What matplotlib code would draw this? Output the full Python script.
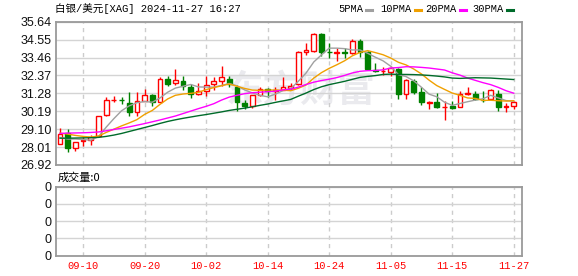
import pandas as pd
import matplotlib
matplotlib.use('Agg')
import matplotlib.pyplot as plt
from matplotlib.patches import Rectangle
from matplotlib.lines import Line2D

plt.rcParams['font.family'] = ['Liberation Sans', 'Noto Sans CJK SC', 'DejaVu Sans']

# trading days shown on the chart
dates = pd.bdate_range('2024-09-05', '2024-11-27').strftime('%m-%d').tolist()

opens = [28.21, 28.88, 27.97, 28.38, 28.43, 28.67, 29.95, 30.85, 30.87, 30.69,
         30.13, 30.83, 31.18, 30.75, 32.15, 31.90, 32.05, 31.66, 31.24, 31.40,
         31.86, 32.05, 32.17, 31.66, 30.69, 30.49, 31.20, 31.54, 31.40, 31.50,
         31.62, 31.86, 33.82, 33.88, 34.89, 33.82, 33.74, 33.80, 33.76, 34.49,
         33.78, 32.71, 32.63, 32.57, 32.75, 31.26, 32.05, 31.34, 30.69, 30.73,
         30.43, 30.49, 30.45, 31.22, 31.26, 30.89, 30.96, 31.26, 30.45, 30.49]
highs = [29.18, 29.14, 28.31, 28.63, 28.77, 29.93, 31.06, 31.14, 31.06, 31.36,
         31.34, 31.54, 31.26, 32.27, 32.35, 32.77, 32.31, 31.86, 31.90, 32.31,
         32.27, 32.95, 32.35, 31.80, 30.85, 31.20, 31.66, 31.58, 31.66, 32.27,
         31.90, 33.88, 34.33, 34.93, 34.93, 34.37, 34.03, 34.03, 34.57, 34.57,
         33.86, 33.12, 32.91, 32.95, 32.81, 32.15, 32.15, 31.66, 30.83, 31.30,
         30.79, 30.83, 31.40, 31.64, 31.40, 31.44, 31.56, 31.50, 30.69, 30.79]
lows = [28.21, 27.73, 27.77, 28.07, 28.11, 28.64, 29.89, 30.77, 30.66, 29.89,
        29.93, 30.79, 30.49, 30.75, 31.70, 31.80, 31.50, 30.99, 31.20, 31.10,
        31.50, 31.70, 31.66, 30.19, 30.33, 30.39, 31.10, 31.04, 30.89, 31.46,
        31.46, 31.80, 33.62, 33.78, 33.56, 33.42, 33.26, 33.42, 33.66, 33.52,
        32.71, 32.55, 32.41, 32.31, 30.93, 30.93, 31.26, 30.59, 30.35, 30.39,
        29.68, 30.35, 30.43, 31.16, 30.85, 30.73, 30.93, 30.23, 30.15, 30.33]
closes = [28.82, 27.97, 28.31, 28.42, 28.63, 29.89, 30.86, 30.89, 30.85, 30.13,
          30.83, 31.18, 30.73, 32.15, 31.86, 32.07, 31.74, 31.26, 31.44, 31.80,
          32.05, 32.27, 31.86, 30.73, 30.53, 31.16, 31.54, 31.40, 31.50, 31.66,
          31.70, 33.82, 33.90, 34.89, 33.78, 33.78, 33.80, 33.76, 34.49, 33.78,
          32.75, 32.63, 32.67, 32.81, 31.26, 32.11, 31.34, 30.73, 30.73, 30.45,
          30.47, 30.39, 31.26, 31.28, 30.93, 30.87, 31.46, 30.45, 30.49, 30.73]

ma5 = [28.60, 28.50, 28.50, 28.47, 28.43, 28.64, 29.22, 29.74, 30.22, 30.52,
       30.71, 30.78, 30.74, 31.00, 31.35, 31.60, 31.71, 31.82, 31.67, 31.66,
       31.66, 31.76, 31.88, 31.74, 31.49, 31.31, 31.16, 31.07, 31.23, 31.45,
       31.56, 32.02, 32.52, 33.19, 33.62, 34.03, 34.03, 34.00, 33.92, 33.92,
       33.72, 33.48, 33.26, 32.93, 32.42, 32.30, 32.04, 31.65, 31.23, 31.07,
       30.74, 30.55, 30.66, 30.77, 30.87, 30.95, 31.16, 31.00, 30.84, 30.80]
ma10 = [28.86, 28.80, 28.72, 28.66, 28.62, 28.68, 28.90, 29.10, 29.30, 29.48,
        29.68, 30.00, 30.24, 30.61, 30.94, 31.16, 31.24, 31.28, 31.34, 31.51,
        31.63, 31.74, 31.85, 31.71, 31.58, 31.48, 31.46, 31.48, 31.48, 31.47,
        31.44, 31.59, 31.79, 32.21, 32.54, 32.80, 33.02, 33.26, 33.56, 33.77,
        33.88, 33.76, 33.63, 33.43, 33.17, 33.01, 32.76, 32.46, 32.08, 31.75,
        31.52, 31.30, 31.16, 31.00, 30.97, 30.85, 30.86, 30.83, 30.81, 30.83]
ma20 = [28.84, 28.86, 28.87, 28.88, 28.90, 28.93, 29.00, 29.08, 29.16, 29.24,
        29.34, 29.44, 29.55, 29.66, 29.78, 29.90, 30.05, 30.20, 30.35, 30.49,
        30.65, 30.87, 31.05, 31.16, 31.26, 31.32, 31.35, 31.38, 31.41, 31.49,
        31.53, 31.66, 31.82, 31.96, 32.06, 32.14, 32.24, 32.37, 32.52, 32.62,
        32.66, 32.67, 32.71, 32.82, 32.85, 32.90, 32.89, 32.86, 32.82, 32.76,
        32.70, 32.53, 32.39, 32.21, 32.07, 31.93, 31.81, 31.64, 31.44, 31.29]
ma30 = [28.55, 28.55, 28.56, 28.57, 28.58, 28.60, 28.66, 28.74, 28.84, 28.96,
        29.08, 29.20, 29.32, 29.45, 29.57, 29.67, 29.76, 29.84, 29.92, 29.99,
        30.07, 30.15, 30.24, 30.31, 30.38, 30.46, 30.55, 30.63, 30.73, 30.82,
        30.91, 31.11, 31.30, 31.51, 31.68, 31.81, 31.91, 32.01, 32.13, 32.25,
        32.31, 32.36, 32.43, 32.45, 32.43, 32.43, 32.42, 32.40, 32.37, 32.33,
        32.28, 32.21, 32.19, 32.21, 32.23, 32.22, 32.21, 32.18, 32.15, 32.12]

price_ticks = [26.92, 28.01, 29.10, 30.19, 31.28, 32.37, 33.46, 34.55, 35.64]
tick_dates = ['09-10', '09-20', '10-02', '10-14', '10-24', '11-05', '11-15', '11-27']
title = '白银/美元[XAG] 2024-11-27 16:27'
ma_names = ['5PMA', '10PMA', '20PMA', '30PMA']
ma_colors = ['#a0a0a0', '#f0a000', '#ff00ff', '#006b2a']

UP = '#ff0000'
DOWN = '#008000'
GRID = '#d4d4d4'
EDGE = '#9a9a9a'

fig = plt.figure(figsize=(5.78, 2.76), dpi=100)
ax = fig.add_axes([0.0964, 0.4022, 0.8073, 0.5192])
axv = fig.add_axes([0.0964, 0.0736, 0.8073, 0.25])

xs = list(range(len(dates)))
tick_pos = [dates.index(d) for d in tick_dates]

for a in (ax, axv):
    a.set_xlim(-0.56, 60.12)
    a.set_xticks(tick_pos)
    a.xaxis.grid(True, color='#cccccc', lw=1, ls=(0, (3, 3)))
    a.yaxis.grid(True, color=GRID, lw=1)
    a.set_axisbelow(True)
    for s in a.spines.values():
        s.set_color(EDGE)
        s.set_linewidth(1.3)
    a.tick_params(length=0)

# watermark
ax.text(0.525, 0.52, '东方财富', transform=ax.transAxes, fontsize=27,
        color='#eaeaee', fontweight='bold', ha='center', va='center',
        family='Noto Sans CJK SC', zorder=0)

# candles
w = 0.62
for i in xs:
    o, h, l, c = opens[i], highs[i], lows[i], closes[i]
    up = c >= o
    col = UP if up else DOWN
    ax.vlines(i, l, h, color=col, lw=1, zorder=3)
    body = max(abs(c - o), 0.03)
    ax.add_patch(Rectangle((i - w / 2, min(o, c)), w, body,
                           facecolor='white' if up else DOWN,
                           edgecolor=col, lw=1, zorder=4))

for vals, col in zip([ma5, ma10, ma20, ma30], ma_colors):
    ax.plot(xs, vals, color=col, lw=1, zorder=5)

ax.set_ylim(26.92, 35.64)
ax.set_yticks(price_ticks)
ax.set_yticklabels(['%.2f' % v for v in price_ticks])
ax.tick_params(axis='y', labelsize=9, pad=3, labelcolor='#111111')
ax.tick_params(axis='x', labelbottom=False)

axv.set_ylim(0, 4)
axv.set_yticks([0, 1, 2, 3, 4])
axv.set_yticklabels(['0'] * 5)
axv.tick_params(axis='y', labelsize=9, pad=3, labelcolor='#111111')
axv.set_xticklabels(tick_dates)
axv.tick_params(axis='x', labelsize=7.5, labelcolor='#ff0000', pad=4)
for lbl in axv.get_xticklabels():
    lbl.set_fontfamily('Liberation Mono')

# header texts
fig.text(0.095, 1 - 9 / 276, title, fontsize=7.6, va='center', ha='left',
         family=['Liberation Mono', 'Noto Sans CJK SC'])
fig.text(0.099, 1 - 177.5 / 276, '成交量:0', fontsize=8, va='center', ha='left',
         family=['Noto Sans CJK SC'])

# legend row
leg_x = [338, 380, 425, 472]
for name, col, lx in zip(ma_names, ma_colors, leg_x):
    fig.text(lx / 578, 1 - 9 / 276, name, fontsize=7.5, va='center', ha='left',
             family='Liberation Mono')
    mx = lx + len(name) * 6.3 + 3
    fig.add_artist(Line2D([mx / 578, (mx + 6) / 578], [1 - 9.5 / 276] * 2,
                          color=col, lw=2.2, transform=fig.transFigure))

fig.savefig('out.png', dpi=100)
